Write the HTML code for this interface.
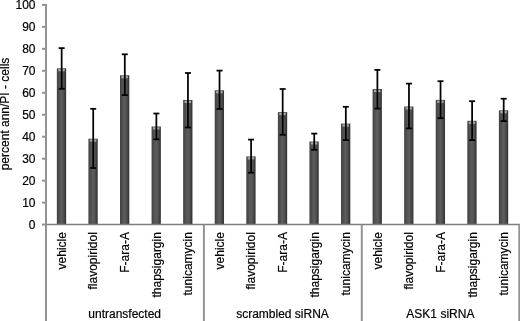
<!DOCTYPE html>
<html><head><meta charset="utf-8"><style>
html,body{margin:0;padding:0;background:#fff;width:520px;height:321px;overflow:hidden}
svg{display:block;filter:blur(0.3px)}
text{font-family:"Liberation Sans",sans-serif;font-size:12px;fill:#000;stroke:#000;stroke-width:0.2px}
</style></head><body>
<svg width="520" height="321" viewBox="0 0 520 321">
<defs><linearGradient id="g" x1="0" x2="1" y1="0" y2="0">
<stop offset="0" stop-color="#404040"/><stop offset="0.18" stop-color="#4c4c4c"/><stop offset="0.5" stop-color="#5e5e5e"/><stop offset="0.78" stop-color="#4a4a4a"/><stop offset="0.92" stop-color="#363636"/><stop offset="1" stop-color="#3a3a3a"/>
</linearGradient></defs>

<rect x="56.85" y="68.30" width="9.3" height="156.30" fill="url(#g)"/>
<rect x="58.25" y="69.10" width="6.50" height="2.2" fill="#a6a6a6"/>
<rect x="88.42" y="138.70" width="9.3" height="85.90" fill="url(#g)"/>
<rect x="89.82" y="139.50" width="6.50" height="2.2" fill="#a6a6a6"/>
<rect x="120.00" y="75.30" width="9.3" height="149.30" fill="url(#g)"/>
<rect x="121.40" y="76.10" width="6.50" height="2.2" fill="#a6a6a6"/>
<rect x="151.57" y="126.50" width="9.3" height="98.10" fill="url(#g)"/>
<rect x="152.97" y="127.30" width="6.50" height="2.2" fill="#a6a6a6"/>
<rect x="183.15" y="100.00" width="9.3" height="124.60" fill="url(#g)"/>
<rect x="184.55" y="100.80" width="6.50" height="2.2" fill="#a6a6a6"/>
<rect x="214.72" y="90.30" width="9.3" height="134.30" fill="url(#g)"/>
<rect x="216.12" y="91.10" width="6.50" height="2.2" fill="#a6a6a6"/>
<rect x="246.29" y="156.40" width="9.3" height="68.20" fill="url(#g)"/>
<rect x="247.69" y="157.20" width="6.50" height="2.2" fill="#a6a6a6"/>
<rect x="277.87" y="112.10" width="9.3" height="112.50" fill="url(#g)"/>
<rect x="279.27" y="112.90" width="6.50" height="2.2" fill="#a6a6a6"/>
<rect x="309.44" y="141.50" width="9.3" height="83.10" fill="url(#g)"/>
<rect x="310.84" y="142.30" width="6.50" height="2.2" fill="#a6a6a6"/>
<rect x="341.02" y="123.60" width="9.3" height="101.00" fill="url(#g)"/>
<rect x="342.42" y="124.40" width="6.50" height="2.2" fill="#a6a6a6"/>
<rect x="372.59" y="89.00" width="9.3" height="135.60" fill="url(#g)"/>
<rect x="373.99" y="89.80" width="6.50" height="2.2" fill="#a6a6a6"/>
<rect x="404.16" y="106.50" width="9.3" height="118.10" fill="url(#g)"/>
<rect x="405.56" y="107.30" width="6.50" height="2.2" fill="#a6a6a6"/>
<rect x="435.74" y="99.90" width="9.3" height="124.70" fill="url(#g)"/>
<rect x="437.14" y="100.70" width="6.50" height="2.2" fill="#a6a6a6"/>
<rect x="467.31" y="120.80" width="9.3" height="103.80" fill="url(#g)"/>
<rect x="468.71" y="121.60" width="6.50" height="2.2" fill="#a6a6a6"/>
<rect x="498.89" y="110.30" width="9.3" height="114.30" fill="url(#g)"/>
<rect x="500.29" y="111.10" width="6.50" height="2.2" fill="#a6a6a6"/>
<g stroke="#939393" stroke-width="2" fill="none">
<line x1="46" y1="4" x2="46" y2="321"/>
<line x1="42" y1="224.60" x2="46" y2="224.60"/>
<line x1="42" y1="202.63" x2="46" y2="202.63"/>
<line x1="42" y1="180.66" x2="46" y2="180.66"/>
<line x1="42" y1="158.69" x2="46" y2="158.69"/>
<line x1="42" y1="136.72" x2="46" y2="136.72"/>
<line x1="42" y1="114.75" x2="46" y2="114.75"/>
<line x1="42" y1="92.78" x2="46" y2="92.78"/>
<line x1="42" y1="70.81" x2="46" y2="70.81"/>
<line x1="42" y1="48.84" x2="46" y2="48.84"/>
<line x1="42" y1="26.87" x2="46" y2="26.87"/>
<line x1="42" y1="4.90" x2="46" y2="4.90"/>
<line x1="46" y1="224.6" x2="520" y2="224.6" stroke="#7e7e7e" stroke-width="1.5"/>
<line x1="203.9" y1="224.6" x2="203.9" y2="321"/>
<line x1="361.8" y1="224.6" x2="361.8" y2="321"/>
<line x1="519.3" y1="224.6" x2="519.3" y2="321"/>
</g>
<g stroke="#000" stroke-width="1.75" fill="none">
<line x1="61.65" y1="48.10" x2="61.65" y2="88.80"/>
<line x1="58.65" y1="48.10" x2="64.65" y2="48.10"/>
<line x1="58.65" y1="88.80" x2="64.65" y2="88.80"/>
<line x1="93.22" y1="108.80" x2="93.22" y2="168.00"/>
<line x1="90.22" y1="108.80" x2="96.22" y2="108.80"/>
<line x1="90.22" y1="168.00" x2="96.22" y2="168.00"/>
<line x1="124.80" y1="54.30" x2="124.80" y2="95.10"/>
<line x1="121.80" y1="54.30" x2="127.80" y2="54.30"/>
<line x1="121.80" y1="95.10" x2="127.80" y2="95.10"/>
<line x1="156.37" y1="113.50" x2="156.37" y2="139.30"/>
<line x1="153.37" y1="113.50" x2="159.37" y2="113.50"/>
<line x1="153.37" y1="139.30" x2="159.37" y2="139.30"/>
<line x1="187.95" y1="73.00" x2="187.95" y2="127.50"/>
<line x1="184.95" y1="73.00" x2="190.95" y2="73.00"/>
<line x1="184.95" y1="127.50" x2="190.95" y2="127.50"/>
<line x1="219.52" y1="70.60" x2="219.52" y2="109.00"/>
<line x1="216.52" y1="70.60" x2="222.52" y2="70.60"/>
<line x1="216.52" y1="109.00" x2="222.52" y2="109.00"/>
<line x1="251.09" y1="139.60" x2="251.09" y2="172.70"/>
<line x1="248.09" y1="139.60" x2="254.09" y2="139.60"/>
<line x1="248.09" y1="172.70" x2="254.09" y2="172.70"/>
<line x1="282.67" y1="89.00" x2="282.67" y2="134.80"/>
<line x1="279.67" y1="89.00" x2="285.67" y2="89.00"/>
<line x1="279.67" y1="134.80" x2="285.67" y2="134.80"/>
<line x1="314.24" y1="133.60" x2="314.24" y2="149.80"/>
<line x1="311.24" y1="133.60" x2="317.24" y2="133.60"/>
<line x1="311.24" y1="149.80" x2="317.24" y2="149.80"/>
<line x1="345.82" y1="106.80" x2="345.82" y2="140.10"/>
<line x1="342.82" y1="106.80" x2="348.82" y2="106.80"/>
<line x1="342.82" y1="140.10" x2="348.82" y2="140.10"/>
<line x1="377.39" y1="69.90" x2="377.39" y2="108.60"/>
<line x1="374.39" y1="69.90" x2="380.39" y2="69.90"/>
<line x1="374.39" y1="108.60" x2="380.39" y2="108.60"/>
<line x1="408.96" y1="83.60" x2="408.96" y2="128.40"/>
<line x1="405.96" y1="83.60" x2="411.96" y2="83.60"/>
<line x1="405.96" y1="128.40" x2="411.96" y2="128.40"/>
<line x1="440.54" y1="81.20" x2="440.54" y2="118.20"/>
<line x1="437.54" y1="81.20" x2="443.54" y2="81.20"/>
<line x1="437.54" y1="118.20" x2="443.54" y2="118.20"/>
<line x1="472.11" y1="101.20" x2="472.11" y2="140.10"/>
<line x1="469.11" y1="101.20" x2="475.11" y2="101.20"/>
<line x1="469.11" y1="140.10" x2="475.11" y2="140.10"/>
<line x1="503.69" y1="98.70" x2="503.69" y2="121.10"/>
<line x1="500.69" y1="98.70" x2="506.69" y2="98.70"/>
<line x1="500.69" y1="121.10" x2="506.69" y2="121.10"/>
</g>
<text x="35.5" y="228.90" text-anchor="end">0</text>
<text x="35.5" y="206.93" text-anchor="end">10</text>
<text x="35.5" y="184.96" text-anchor="end">20</text>
<text x="35.5" y="162.99" text-anchor="end">30</text>
<text x="35.5" y="141.02" text-anchor="end">40</text>
<text x="35.5" y="119.05" text-anchor="end">50</text>
<text x="35.5" y="97.08" text-anchor="end">60</text>
<text x="35.5" y="75.11" text-anchor="end">70</text>
<text x="35.5" y="53.14" text-anchor="end">80</text>
<text x="35.5" y="31.17" text-anchor="end">90</text>
<text x="35.5" y="9.20" text-anchor="end">100</text>
<text transform="translate(8.5,114) rotate(-90)" text-anchor="middle">percent ann/PI - cells</text>
<text transform="translate(65.80,232.1) rotate(-90)" text-anchor="end">vehicle</text>
<text transform="translate(97.40,232.1) rotate(-90)" text-anchor="end">flavopiridol</text>
<text transform="translate(129.01,232.1) rotate(-90)" text-anchor="end">F-ara-A</text>
<text transform="translate(160.61,232.1) rotate(-90)" text-anchor="end">thapsigargin</text>
<text transform="translate(192.22,232.1) rotate(-90)" text-anchor="end">tunicamycin</text>
<text transform="translate(223.82,232.1) rotate(-90)" text-anchor="end">vehicle</text>
<text transform="translate(255.42,232.1) rotate(-90)" text-anchor="end">flavopiridol</text>
<text transform="translate(287.03,232.1) rotate(-90)" text-anchor="end">F-ara-A</text>
<text transform="translate(318.63,232.1) rotate(-90)" text-anchor="end">thapsigargin</text>
<text transform="translate(350.24,232.1) rotate(-90)" text-anchor="end">tunicamycin</text>
<text transform="translate(381.84,232.1) rotate(-90)" text-anchor="end">vehicle</text>
<text transform="translate(413.44,232.1) rotate(-90)" text-anchor="end">flavopiridol</text>
<text transform="translate(445.05,232.1) rotate(-90)" text-anchor="end">F-ara-A</text>
<text transform="translate(476.65,232.1) rotate(-90)" text-anchor="end">thapsigargin</text>
<text transform="translate(508.26,232.1) rotate(-90)" text-anchor="end">tunicamycin</text>
<text x="124.65" y="318" text-anchor="middle">untransfected</text>
<text x="282.52" y="318" text-anchor="middle">scrambled siRNA</text>
<text x="440.39" y="318" text-anchor="middle">ASK1 siRNA</text>
</svg></body></html>
